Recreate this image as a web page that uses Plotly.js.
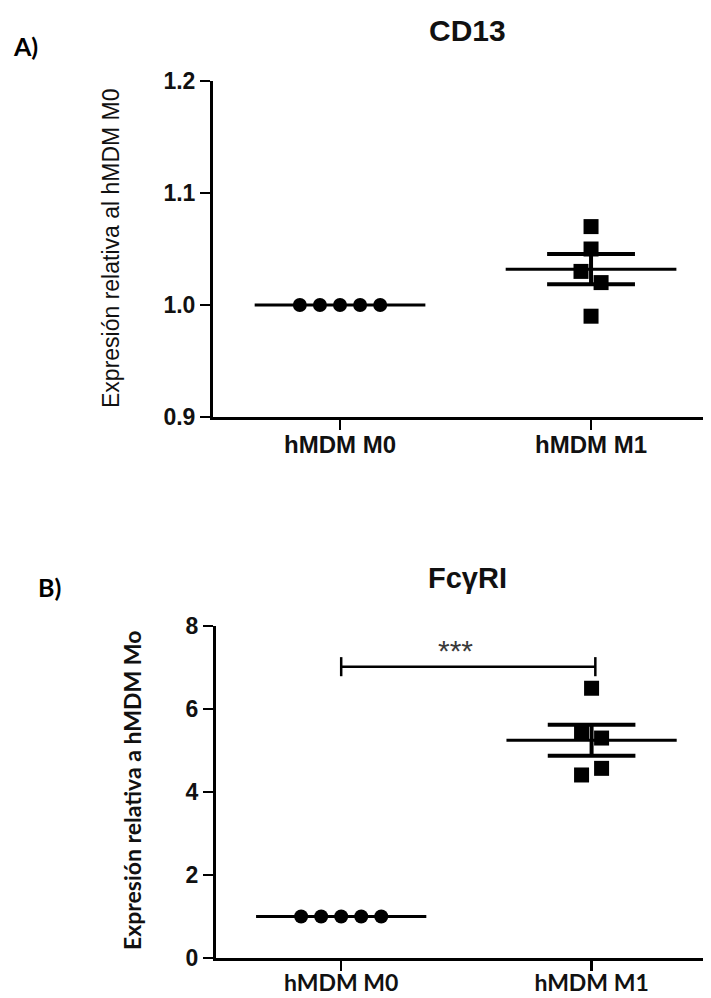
<!DOCTYPE html>
<html>
<head>
<meta charset="utf-8">
<script src="https://cdn.plot.ly/plotly-3.0.1.min.js"></script>
<style>html,body{margin:0;padding:0;background:#fff;}#chart{width:711px;height:998px;}</style>
</head>
<body>
<div id="chart"></div>
<script>
// ---------------- data ----------------
const categories = ['hMDM M0', 'hMDM M1'];
const cd13_M0 = [1.00, 1.00, 1.00, 1.00, 1.00];
const cd13_M1 = [1.07, 1.05, 1.03, 1.02, 0.99];
const fcgr1_M0 = [1.00, 1.00, 1.00, 1.00, 1.00];
const fcgr1_M1 = [6.50, 5.45, 5.30, 4.41, 4.57];
const cd13TickVals = [0.9, 1.0, 1.1, 1.2];
const cd13TickText = ['0.9', '1.0', '1.1', '1.2'];
const fcgr1TickVals = [0, 2, 4, 6, 8];
const fcgr1TickText = ['0', '2', '4', '6', '8'];
const sigLabel = '***';
const sigPair = [0, 1];
const sigLevel = 7.02;
const titleA = 'CD13';
const titleB = 'Fc\u03b3RI';
const yTitleA = 'Expresión relativa al hMDM M0';
const yTitleB = 'Expresión relativa a hMDM Mo';

// ---------------- layout constants ----------------
const W = 711, H = 998;
const panelA = {x0: 213, x1: 703, yTop: 81, yBot: 417, yRange: [0.9, 1.2], xRange: [-0.506, 1.446]};
const panelB = {x0: 216, x1: 703, yTop: 626, yBot: 958, yRange: [0, 8], xRange: [-0.5, 1.445]};
const markerPx = 14;
const dodgeStep = 0.08;
const meanHalf = 0.34;
const semHalf = 0.175;

function mean(a) { return a.reduce((s, v) => s + v, 0) / a.length; }
function sem(a) {
  const m = mean(a);
  const v = a.reduce((s, x) => s + (x - m) * (x - m), 0) / (a.length - 1);
  return Math.sqrt(v) / Math.sqrt(a.length);
}
function swarm(vals, pxPerUnit) {
  const order = vals.map((v, i) => i).sort((a, b) => vals[a] - vals[b]);
  const clusters = [];
  let cur = [order[0]];
  for (let k = 1; k < order.length; k++) {
    if ((vals[order[k]] - vals[order[k - 1]]) * pxPerUnit < markerPx) cur.push(order[k]);
    else { clusters.push(cur); cur = [order[k]]; }
  }
  clusters.push(cur);
  const off = new Array(vals.length).fill(0);
  clusters.forEach(c => {
    c.sort((a, b) => a - b);
    c.forEach((idx, k) => { off[idx] = (k - (c.length - 1) / 2) * dodgeStep; });
  });
  return off;
}

const traces = [];
function addGroup(vals, catIndex, panel, xa, ya, symbol, size) {
  const ppu = (panel.yBot - panel.yTop) / (panel.yRange[1] - panel.yRange[0]);
  const off = swarm(vals, ppu);
  const m = mean(vals), s = sem(vals);
  traces.push({type: 'scatter', mode: 'lines', xaxis: xa, yaxis: ya, hoverinfo: 'skip',
    x: [catIndex - meanHalf, catIndex + meanHalf], y: [m, m],
    line: {color: '#000', width: 3}, showlegend: false});
  if (s > 1e-9) {
    traces.push({type: 'scatter', mode: 'lines', xaxis: xa, yaxis: ya, hoverinfo: 'skip',
      x: [catIndex - semHalf, catIndex + semHalf, null, catIndex - semHalf, catIndex + semHalf, null, catIndex, catIndex],
      y: [m + s, m + s, null, m - s, m - s, null, m - s, m + s],
      line: {color: '#000', width: 4}, showlegend: false});
  }
  traces.push({type: 'scatter', mode: 'markers', xaxis: xa, yaxis: ya, hoverinfo: 'skip',
    x: vals.map((v, i) => catIndex + off[i]), y: vals,
    marker: {symbol: symbol, size: size, color: '#000', line: {width: 0}}, showlegend: false});
}

addGroup(cd13_M0, 0, panelA, 'x', 'y', 'circle', 14);
addGroup(cd13_M1, 1, panelA, 'x', 'y', 'square', 15);
addGroup(fcgr1_M0, 0, panelB, 'x2', 'y2', 'circle', 14);
addGroup(fcgr1_M1, 1, panelB, 'x2', 'y2', 'square', 15);

// significance bracket
const capH = 0.23;
const sigRight = sigPair[1] + 0.015;
traces.push({type: 'scatter', mode: 'lines', xaxis: 'x2', yaxis: 'y2', hoverinfo: 'skip',
  x: [sigPair[0], sigPair[0], null, sigPair[0], sigRight, null, sigRight, sigRight],
  y: [sigLevel - capH, sigLevel + capH, null, sigLevel, sigLevel, null, sigLevel - capH, sigLevel + capH],
  line: {color: '#000', width: 2.5}, showlegend: false});

function dom(panel) {
  return {
    x: [panel.x0 / W, panel.x1 / W],
    y: [(H - panel.yBot) / H, (H - panel.yTop) / H]
  };
}
const dA = dom(panelA), dB = dom(panelB);
const arial = 'Liberation Sans, Arial, sans-serif';
const calibri = 'Lato, Carlito, Calibri, sans-serif';

function xAxis(d, panel, anchor, font, standoff) {
  return {domain: d.x, anchor: anchor, range: panel.xRange, tickvals: [0, 1], ticktext: categories,
    showgrid: false, zeroline: false, showline: true, linewidth: 3, linecolor: '#000',
    ticks: 'outside', ticklen: 10, tickwidth: 2.5, tickcolor: '#000', tickfont: font,
    ticklabelstandoff: standoff, fixedrange: true};
}
function yAxis(d, panel, anchor, vals, text, font) {
  return {domain: d.y, anchor: anchor, range: panel.yRange, tickvals: vals, ticktext: text,
    showgrid: false, zeroline: false, showline: true, linewidth: 3, linecolor: '#000',
    ticks: 'outside', ticklen: 10, tickwidth: 2.5, tickcolor: '#000', tickfont: font, fixedrange: true};
}

const layout = {
  width: W, height: H,
  margin: {l: 0, r: 0, t: 0, b: 0},
  paper_bgcolor: '#fff', plot_bgcolor: '#fff',
  showlegend: false, hovermode: false,
  xaxis: xAxis(dA, panelA, 'y', {family: arial, size: 24, color: '#111', weight: 'bold'}, -6),
  yaxis: yAxis(dA, panelA, 'x', cd13TickVals, cd13TickText, {family: arial, size: 23, color: '#111', weight: 'bold'}),
  xaxis2: xAxis(dB, panelB, 'y2', {family: calibri, size: 23, color: '#111', weight: 'bold'}, -8),
  yaxis2: yAxis(dB, panelB, 'x2', fcgr1TickVals, fcgr1TickText, {family: arial, size: 23, color: '#111', weight: 'bold'}),
  annotations: [
    {text: 'A)', xref: 'paper', yref: 'paper', x: 25 / W, y: 1 - 46 / H, xanchor: 'center', yanchor: 'middle',
      showarrow: false, font: {family: calibri, size: 25, color: '#000', weight: 'bold'}},
    {text: 'B)', xref: 'paper', yref: 'paper', x: 49 / W, y: 1 - 587 / H, xanchor: 'center', yanchor: 'middle',
      showarrow: false, font: {family: calibri, size: 25, color: '#000', weight: 'bold'}},
    {text: titleA, xref: 'paper', yref: 'paper', x: 468 / W, y: 1 - 31 / H, xanchor: 'center', yanchor: 'middle',
      showarrow: false, font: {family: arial, size: 30, color: '#111', weight: 'bold'}},
    {text: titleB, xref: 'paper', yref: 'paper', x: 467 / W, y: 1 - 578 / H, xanchor: 'center', yanchor: 'middle',
      showarrow: false, font: {family: arial, size: 29, color: '#111', weight: 'bold'}},
    {text: yTitleA, xref: 'paper', yref: 'paper', x: 111 / W, y: 1 - 248 / H, xanchor: 'center', yanchor: 'middle',
      textangle: -90, showarrow: false, font: {family: arial, size: 23, color: '#111'}},
    {text: yTitleB, xref: 'paper', yref: 'paper', x: 132 / W, y: 1 - 791 / H, xanchor: 'center', yanchor: 'middle',
      textangle: -90, showarrow: false, font: {family: calibri, size: 23, color: '#111', weight: 'bold'}},
    {text: sigLabel, xref: 'x2', yref: 'y2', x: 0.456, y: sigLevel, xanchor: 'center', yanchor: 'bottom', yshift: -2,
      showarrow: false, font: {family: arial, size: 30, color: '#3a3a3a'}}
  ]
};

Plotly.newPlot('chart', traces, layout, {staticPlot: true, displayModeBar: false});
</script>
</body>
</html>
